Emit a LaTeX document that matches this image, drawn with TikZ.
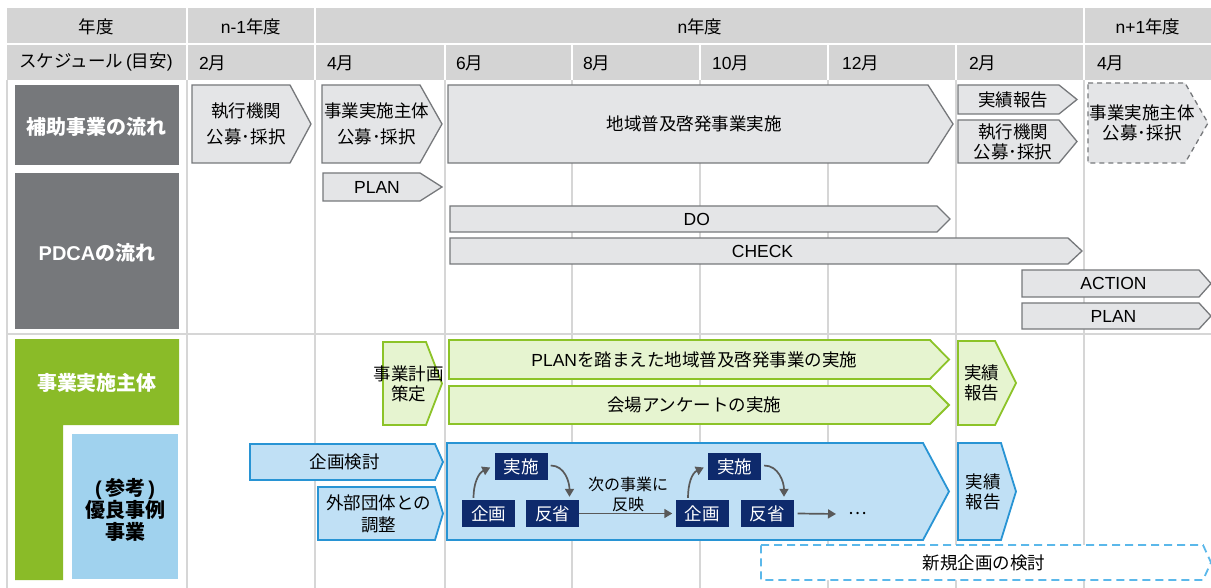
\documentclass[tikz,border=0pt]{standalone}
\usepackage{fontspec}
\setmainfont{Noto Sans CJK JP}
\newfontfamily\lat{Liberation Sans}
\usetikzlibrary{arrows.meta,calc}
\definecolor{hdr}{HTML}{D4D4D4}
\definecolor{grid}{HTML}{D6D6D6}
\definecolor{dgray}{HTML}{76787B}
\definecolor{cgfill}{HTML}{E4E5E7}
\definecolor{cgline}{HTML}{76787B}
\definecolor{glab}{HTML}{8ABB28}
\definecolor{gfill}{HTML}{E6F4D0}
\definecolor{gline}{HTML}{8CC328}
\definecolor{blab}{HTML}{A0D2EE}
\definecolor{bfill}{HTML}{C0E0F5}
\definecolor{bline}{HTML}{2894D4}
\definecolor{navy}{HTML}{0E2A6C}
\definecolor{dline}{HTML}{5BB8EA}
\definecolor{arrg}{HTML}{595959}
\newcommand\chevr[9]{%
  \draw[#1] (#3,#4) -- (#5,#4) -- (#6,{(#4+#7)/2}) -- (#5,#7) -- (#3,#7) -- cycle;
  \node[txt,#8] (#2) at ({(#3+#5)/2+(#6-#5)/4},{(#4+#7)/2}) {#9};}
\tikzset{
  txt/.style={inner sep=0pt, align=center, font=\fontsize{17.5}{20}\selectfont, text=black},
  hcell/.style={fill=hdr, draw=none},
  htxt/.style={inner sep=0pt, font=\fontsize{17.5}{20}\selectfont, text=black},
  mtxt/.style={inner sep=0pt, anchor=west, font=\fontsize{17.5}{20}\selectfont, text=black},
  gridline/.style={draw=grid, line width=1.5pt},
  gchev/.style={fill=cgfill, draw=cgline, line width=1.3pt},
  gdash/.style={fill=cgfill, draw=cgline, line width=1.3pt, dash pattern=on 5pt off 4pt},
  grchev/.style={fill=gfill, draw=gline, line width=1.8pt},
  blchev/.style={fill=bfill, draw=bline, line width=1.8pt},
  bldash/.style={fill=white, draw=dline, line width=1.8pt, dash pattern=on 8pt off 5pt},
  lab/.style={inner sep=0pt, align=center, font=\fontsize{20}{22}\selectfont\bfseries},
  navybox/.style={fill=navy, text=white, inner sep=0pt, minimum width=53pt, minimum height=27pt, font=\fontsize{17.5}{20}\selectfont},
  parr/.style={draw=arrg, line width=1.7pt, -{Triangle[length=8pt,width=9pt]}},
}
\begin{document}
\begin{tikzpicture}[x=1pt,y=-1pt]
\useasboundingbox (0,0) rectangle (1211,588);
\fill[white] (0,0) rectangle (1211,588);
% header row 1
\fill[hcell] (7,8) rectangle (186,43);
\fill[hcell] (188,8) rectangle (314,43);
\fill[hcell] (316,8) rectangle (1083,43);
\fill[hcell] (1085,8) rectangle (1211,43);
% header row 2
\foreach \a/\b in {7/186,188/314,316/444,446/571,573/699,701/827,829/955,957/1083,1085/1211}
  \fill[hcell] (\a,45) rectangle (\b,80);
\node[htxt] (y0) at (96,27) {年度};
\node[htxt] (y1) at (251,27) {{\lat n-1}年度};
\node[htxt] (y2) at (700,27) {{\lat n}年度};
\node[htxt] (y3) at (1148,27) {{\lat n+1}年度};
\node[htxt] (sch) at (96,62) {スケジュール{\lat\,(}目安{\lat)}};
\node[mtxt] (m1) at (199,63) {{\lat 2}月};
\node[mtxt] (m2) at (327,63) {{\lat 4}月};
\node[mtxt] (m3) at (456,63) {{\lat 6}月};
\node[mtxt] (m4) at (583,63) {{\lat 8}月};
\node[mtxt] (m5) at (712,63) {{\lat 10}月};
\node[mtxt] (m6) at (842,63) {{\lat 12}月};
\node[mtxt] (m7) at (969,63) {{\lat 2}月};
\node[mtxt] (m8) at (1097,63) {{\lat 4}月};
% grid
\foreach \x in {7,187,315,445,572,700,828,956,1084}
  \draw[gridline] (\x,80) -- (\x,588);
\draw[gridline] (7,334) -- (1211,334);
% left labels
\fill[dgray] (15,85) rectangle (179,165);
\node[lab,text=white] (l1) at (97,127) {補助事業の流れ};
\fill[dgray] (15,173) rectangle (179,329);
\node[lab,text=white] (l2) at (97,253) {{\lat\bfseries PDCA}の流れ};
\fill[glab] (15,339) -- (179,339) -- (179,425) -- (63,425) -- (63,580) -- (15,580) -- cycle;
\node[lab,text=white] (l3) at (97,383) {事業実施主体};
\fill[blab] (72,434) rectangle (178,579);
\node[lab,text=black] (l4) at (125,510) {{\lat\bfseries(\,}参考{\lat\bfseries\,)}\\優良事例\\事業};
% row 1
\chevr{gchev}{a1}{192}{85}{290}{311}{163}{font=\fontsize{17.5}{26}\selectfont}{執行機関\\公募･採択}
\chevr{gchev}{a2}{322}{85}{420}{442}{163}{font=\fontsize{17.5}{26}\selectfont}{事業実施主体\\公募･採択}
\chevr{gchev}{a3}{448}{85}{928}{953}{163}{}{地域普及啓発事業実施}
\chevr{gchev}{a4}{958}{85}{1059}{1077}{114}{}{実績報告}
\chevr{gchev}{a5}{958}{120}{1059}{1077}{163}{}{執行機関\\公募･採択}
\chevr{gdash}{a6}{1088}{83}{1185}{1208}{163}{}{事業実施主体\\公募･採択}
% PDCA
\chevr{gchev}{p1}{323}{173}{420}{442}{201}{font=\lat\fontsize{17.5}{20}\selectfont}{PLAN}
\chevr{gchev}{p2}{450}{206}{937}{950}{232}{font=\lat\fontsize{17.5}{20}\selectfont}{DO}
\chevr{gchev}{p3}{450}{238}{1068}{1082}{264}{font=\lat\fontsize{17.5}{20}\selectfont}{CHECK}
\chevr{gchev}{p4}{1022}{270}{1199}{1211}{297}{font=\lat\fontsize{17.5}{20}\selectfont}{ACTION}
\chevr{gchev}{p5}{1022}{303}{1199}{1211}{329}{font=\lat\fontsize{17.5}{20}\selectfont}{PLAN}
% green row
\chevr{grchev}{g1}{383}{342}{426}{442}{425}{}{事業計画\\策定}
\chevr{grchev}{g2}{449}{340}{930}{949}{379}{}{{\lat PLAN}を踏まえた地域普及啓発事業の実施}
\chevr{grchev}{g3}{449}{386}{930}{949}{424}{}{会場アンケートの実施}
\chevr{grchev}{g4}{958}{341}{995}{1016}{425}{}{実績\\報告}
% blue row
\chevr{blchev}{b1}{250}{444}{435}{443}{480}{}{企画検討}
\chevr{blchev}{b2}{318}{487}{435}{443}{540}{font=\fontsize{17.5}{22}\selectfont}{外部団体との\\調整}
\chevr{blchev}{b3}{447}{443}{923}{949}{540}{}{}
\chevr{blchev}{b4}{958}{443}{1001}{1016}{540}{}{実績\\報告}
\chevr{bldash}{b5}{761}{545}{1203}{1211}{580}{}{新規企画の検討}
% inner cycle
\node[navybox] (k1) at (488.5,513.5) {企画};
\node[navybox] (j1) at (521,466.5) {実施};
\node[navybox] (h1) at (552.5,513.5) {反省};
\node[navybox] (k2) at (702,513.5) {企画};
\node[navybox] (j2) at (734.5,466.5) {実施};
\node[navybox] (h2) at (767,513.5) {反省};
\node[txt,font=\fontsize{16}{20}\selectfont] (nx) at (628,494) {次の事業に\\反映};
\coordinate (ae) at (836,514);
\node[txt] (dots) at (858,514) {…};
\draw[parr] ([xshift=-15pt,yshift=2pt]k1.north) to[out=90,in=205] ([xshift=-4pt,yshift=-1pt]j1.west);
\draw[parr] ([xshift=3pt,yshift=1pt]j1.east) to[out=0,in=90] ([xshift=17pt,yshift=3pt]h1.north);
\draw[parr] (h1.east) -- ([xshift=-3pt]k2.west);
\draw[parr] ([xshift=-14pt,yshift=2pt]k2.north) to[out=90,in=205] ([xshift=-4pt,yshift=-1pt]j2.west);
\draw[parr] ([xshift=3pt,yshift=1pt]j2.east) to[out=0,in=90] ([xshift=17pt,yshift=3pt]h2.north);
\draw[parr] ([xshift=4pt]h2.east) -- (ae);
\end{tikzpicture}
\end{document}
